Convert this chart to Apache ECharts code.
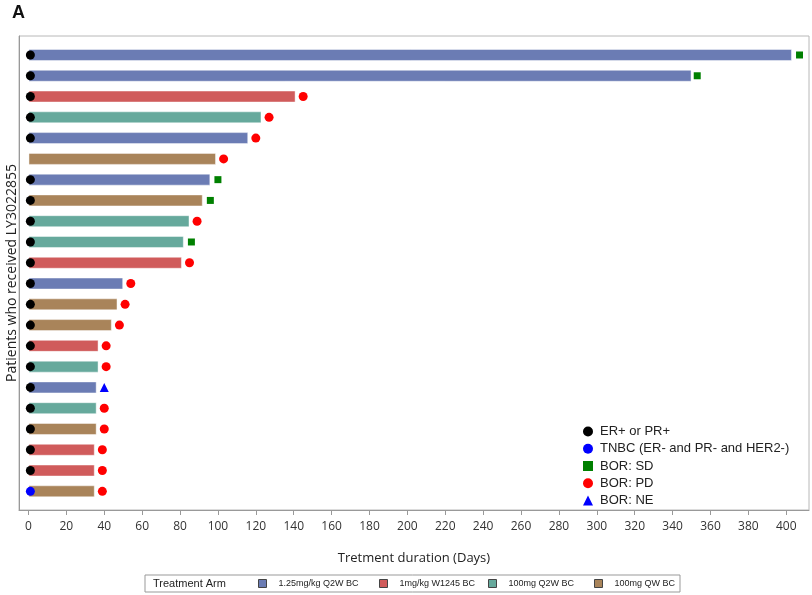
<!DOCTYPE html>
<html>
<head>
<meta charset="utf-8">
<script src="https://cdn.jsdelivr.net/npm/echarts@6/dist/echarts.min.js"></script>
<style>html,body{margin:0;padding:0;background:#fff}#c{width:812px;height:595px}</style>
</head>
<body>
<div id="c"></div>
<script>
// ---- data ----
const patients = ['P1','P2','P3','P4','P5','P6','P7','P8','P9','P10','P11','P12','P13','P14','P15','P16','P17','P18','P19','P20','P21','P22'];
const duration = [403,350,141,123,116,99,96,92,85,82,81,50,47,44,37,37,36,36,36,35,35,35];
const armNames = ['1.25mg/kg Q2W BC','1mg/kg W1245 BC','100mg Q2W BC','100mg QW BC'];
const arm = [0,0,1,2,0,3,0,3,2,2,1,0,3,3,1,2,0,2,3,1,1,3];
const borDay = [407,353,145,127,120,103,100,96,89,86,85,54,51,48,41,41,40,40,40,39,39,39];
const bor = ['SD','SD','PD','PD','PD','PD','SD','SD','PD','SD','PD','PD','PD','PD','PD','PD','NE','PD','PD','PD','PD','PD'];
const receptor = ['ER','ER','ER','ER','ER','','ER','ER','ER','ER','ER','ER','ER','ER','ER','ER','ER','ER','ER','ER','ER','TNBC'];
const receptorDay = 1;
const xTicks = [0,20,40,60,80,100,120,140,160,180,200,220,240,260,280,300,320,340,360,380,400];

// ---- styles ----
const armColors = ['#6b7cb4','#d05b5b','#66a99c','#a9845a'];
const XMIN = -5, XMAX = 412;
const FONT = 'Open Sans';

const series = [];
armNames.forEach((nm,k)=>{
  series.push({
    name: nm, type:'bar', xAxisIndex:1, yAxisIndex:1,
    barWidth: 12, barGap:'-100%',
    itemStyle:{color: armColors[k], borderColor:'rgba(255,255,255,0.45)', borderWidth:1},
    data: duration.map((d,i)=> arm[i]===k ? d : null)
  });
});
function scat(name, sym, size, color, pts){
  series.push({name, type:'scatter', xAxisIndex:1, yAxisIndex:1, symbol:sym, symbolSize:size,
    itemStyle:{color, opacity:1}, data: pts, z:5});
}
scat('ER+ or PR+','circle',9,'#000000', patients.map((p,i)=>receptor[i]==='ER'?[receptorDay,p]:null).filter(Boolean));
scat('TNBC (ER- and PR- and HER2-)','circle',9,'#0000ff', patients.map((p,i)=>receptor[i]==='TNBC'?[receptorDay,p]:null).filter(Boolean));
scat('BOR: SD','rect',7,'#008000', patients.map((p,i)=>bor[i]==='SD'?[borDay[i],p]:null).filter(Boolean));
scat('BOR: PD','circle',9,'#ff0000', patients.map((p,i)=>bor[i]==='PD'?[borDay[i],p]:null).filter(Boolean));
scat('BOR: NE','triangle',9,'#0000ff', patients.map((p,i)=>bor[i]==='NE'?[borDay[i],p]:null).filter(Boolean));

const armLegendLeft = [258, 379, 488, 594];
const legends = [{
  orient:'vertical', left:578, top:420, itemWidth:10, itemHeight:10, itemGap:4.25,
  selectedMode:false,
  textStyle:{fontFamily:'Liberation Sans', fontSize:13, color:'#222', lineHeight:12, padding:[0,0,0,2]},
  data:['ER+ or PR+','TNBC (ER- and PR- and HER2-)','BOR: SD','BOR: PD','BOR: NE']
}];
armNames.forEach((nm,k)=>{
  legends.push({
    left: armLegendLeft[k], top: 579, itemWidth:8, itemHeight:8, selectedMode:false, padding:0,
    icon:'rect', itemStyle:{borderColor:'#444', borderWidth:1},
    textStyle:{fontFamily:'Liberation Sans', fontSize:9, color:'#222', padding:[0,0,0,7]},
    data:[nm]
  });
});

const option = {
  animation:false,
  title:{text:'A', left:7, top:-1, textStyle:{fontFamily:'Liberation Sans', fontWeight:'bold', fontSize:18, color:'#111'}},
  grid:[
    {left:19, right:3, top:36, bottom:85, show:true, borderColor:'#b8b8b8', borderWidth:1, outerBoundsMode:'none', containLabel:false},
    {left:19, right:3, top:44.6, bottom:93.3, outerBoundsMode:'none', containLabel:false}
  ],
  xAxis:[
    {gridIndex:0, type:'value', min:XMIN, max:XMAX,
     axisLine:{show:true, onZero:false, lineStyle:{color:'#999'}},
     axisTick:{show:true, customValues:xTicks, length:5, lineStyle:{color:'#999'}},
     axisLabel:{customValues:xTicks, margin:11, fontFamily:FONT, fontSize:12, color:'#333'},
     splitLine:{show:false},
     name:'Tretment duration (Days)', nameLocation:'middle', nameGap:42,
     nameTextStyle:{fontFamily:FONT, fontSize:13, color:'#222'}},
    {gridIndex:1, type:'value', min:XMIN, max:XMAX, show:false}
  ],
  yAxis:[
    {gridIndex:0, type:'value', min:0, max:1,
     axisLine:{show:true, onZero:false, lineStyle:{color:'#999'}}, axisTick:{show:false}, axisLabel:{show:false}, splitLine:{show:false},
     name:'Patients who received LY3022855', nameLocation:'middle', nameGap:0, nameRotate:90,
     nameTextStyle:{fontFamily:FONT, fontSize:14, color:'#222'}},
    {gridIndex:1, type:'category', data:patients, inverse:true, show:false}
  ],
  legend: legends,
  graphic:[
    {type:'rect', shape:{x:145, y:575, width:535, height:17}, style:{fill:'none', stroke:'#999', lineWidth:1}},
    {type:'text', x:153, y:583.5, style:{text:'Treatment Arm', fontFamily:'Liberation Sans', fontSize:11, fill:'#222', verticalAlign:'middle'}}
  ],
  series
};
echarts.init(document.getElementById('c')).setOption(option);
</script>
</body>
</html>
